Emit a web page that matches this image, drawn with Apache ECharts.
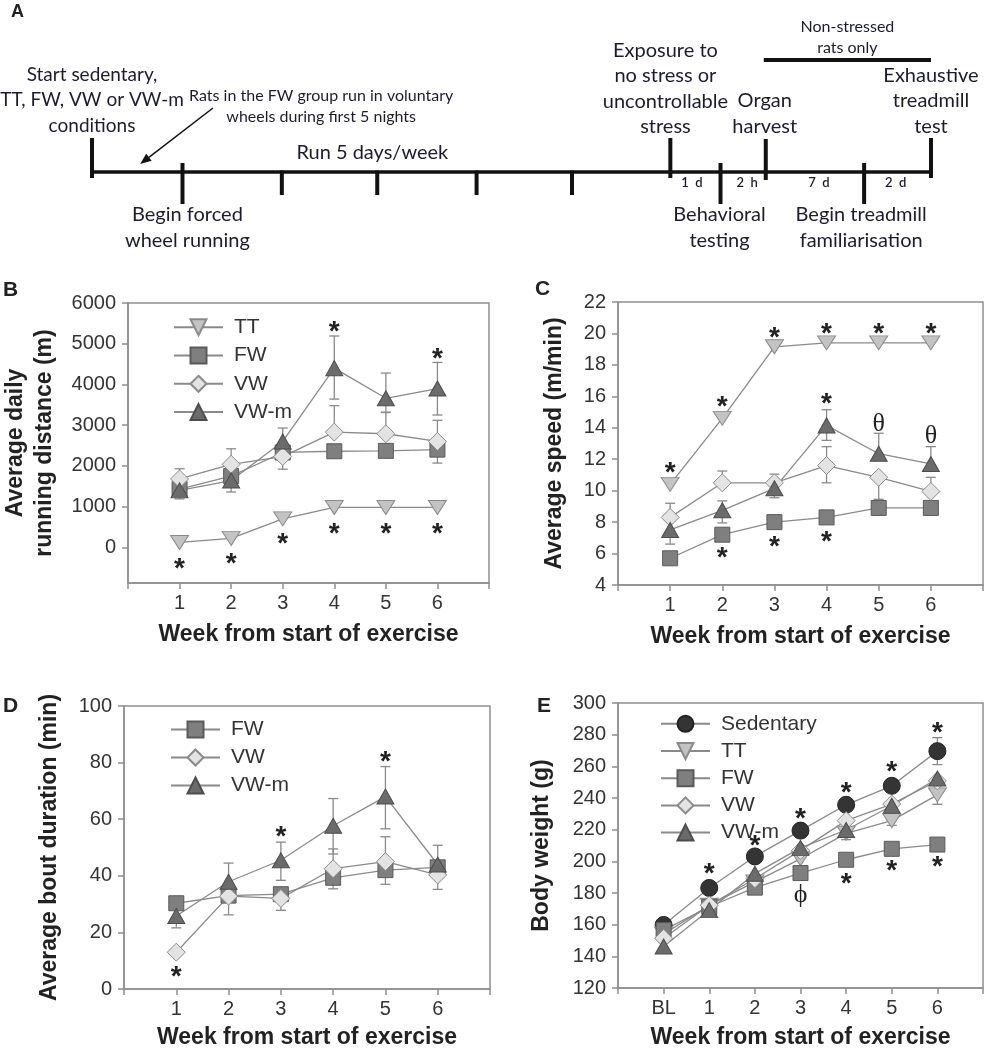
<!DOCTYPE html>
<html><head><meta charset="utf-8">
<script src="https://cdn.jsdelivr.net/npm/echarts@6/dist/echarts.min.js"></script>
<style>html,body{margin:0;padding:0;background:#fff}#c{width:987px;height:1050px}</style>
</head><body><div id="c"></div>
<script>
// ---------------- Panel A: timeline schematic (schematic units) ----------------
const aTickPos  = [0, 0.92, 1.93, 2.90, 3.91, 4.88, 5.88, 6.39, 6.85, 7.85, 8.53];
const aTickUp   = [34, 9, 0, 0, 0, 0, 34, 9, 33, 9, 34];
const aTickDown = [6, 32, 23, 23, 23, 23, 6, 32, 8, 32, 6];
const aBars = [[0, 0, 8.53, 0, 3.5], [6.83, 112, 8.53, 112, 4]];
const aArrow = [1.23, 64, 0.49, 8];
const aTexts = [
  'Start sedentary,\nTT, FW, VW or VW-m\nconditions',
  'Rats in the FW group run in voluntary\nwheels during first 5 nights',
  'Run 5 days/week',
  'Begin forced\nwheel running',
  'Exposure to\nno stress or\nuncontrollable\nstress',
  'Organ\nharvest',
  'Exhaustive\ntreadmill\ntest',
  'Non-stressed\nrats only',
  '1 d', '2 h', '7 d', '2 d',
  'Behavioral\ntesting',
  'Begin treadmill\nfamiliarisation'
];
const aTextX = [0, 2.33, 2.85, 0.97, 5.83, 6.84, 8.53, 7.68, 6.10, 6.66, 7.39, 8.17, 6.38, 7.82];
const aTextY = [72, 66, 19, -55.5, 83.7, 58.5, 71, 134.7, -11, -11, -11, -11, -55.5, -55.5];
const aTextSize = [19, 16, 20, 20, 20, 20, 20, 16, 13, 13, 13, 13, 20, 20];

// ---------------- Panel B: average daily running distance (m) ----------------
const weeks = [1, 2, 3, 4, 5, 6];
const bTT  = [120, 220, 700, 980, 980, 980];
const bFW  = [1430, 1750, 2330, 2360, 2370, 2400];
const bVW  = [1680, 2040, 2230, 2830, 2790, 2600];
const bVWm = [1400, 1640, 2600, 4400, 3660, 3900];
const bFWUp = [0, 0, 0, 0, 0, 0],        bFWDn = [0, 0, 0, 0, 0, 330];
const bVWUp = [250, 380, 0, 650, 530, 520], bVWDn = [0, 0, 310, 0, 0, 0];
const bVWmUp = [0, 0, 330, 790, 620, 640], bVWmDn = [210, 280, 0, 760, 350, 650];
const bMarkX = [1, 2, 3, 4, 5, 6, 4, 6];
const bMarkY = [-380, -260, 230, 470, 470, 470, 5440, 4770];
const bMarkT = ['*', '*', '*', '*', '*', '*', '*', '*'];
const bYTicks = [0, 1000, 2000, 3000, 4000, 5000, 6000];

// ---------------- Panel C: average speed (m/min) ----------------
const cTT  = [10.4, 14.6, 19.15, 19.4, 19.4, 19.4];
const cFW  = [5.7, 7.2, 8.0, 8.3, 8.9, 8.9];
const cVW  = [8.3, 10.5, 10.5, 11.6, 10.85, 9.95];
const cVWm = [7.5, 8.75, 10.15, 14.15, 12.35, 11.7];
const cVWUp = [0.9, 0.75, 0.55, 1.2, 0, 0.9],  cVWDn = [0, 0, 0, 1.1, 1.4, 0];
const cVWmUp = [0.75, 0.6, 0, 1.0, 1.3, 1.1], cVWmDn = [0.9, 0.8, 0.6, 0.95, 0, 0];
const cMarkX = [1, 2, 3, 4, 5, 6, 4, 2, 3, 4, 5, 6];
const cMarkY = [11.5, 15.7, 20.1, 20.3, 20.3, 20.3, 15.9, 6.05, 6.8, 7.1, 14.25, 13.45];
const cMarkT = ['*', '*', '*', '*', '*', '*', '*', '*', '*', '*', 'θ', 'θ'];

// ---------------- Panel D: average bout duration (min) ----------------
const dFW  = [30.3, 33.0, 33.5, 39.3, 42.0, 43.0];
const dVW  = [13.0, 32.8, 32.0, 42.5, 45.0, 40.3];
const dVWm = [25.8, 37.9, 45.5, 57.7, 68.0, 44.0];
const dFWUp = [0, 0, 0, 0, 0, 0],       dFWDn = [0, 0, 0, 3.9, 5.0, 0];
const dVWUp = [0, 0, 0, 7.0, 8.8, 0],   dVWDn = [0, 6.6, 4.2, 0, 0, 5.1];
const dVWmUp = [0, 6.6, 6.4, 9.6, 10.6, 6.8], dVWmDn = [4.2, 0, 7.1, 10.0, 11.4, 0];
const dMarkX = [1, 3, 5];
const dMarkY = [6.1, 55.8, 82.2];
const dMarkT = ['*', '*', '*'];

// ---------------- Panel E: body weight (g) ----------------
const weeksE = [0, 1, 2, 3, 4, 5, 6];
const eSed = [159.8, 183.2, 203.1, 219.4, 235.7, 247.7, 269.6];
const eTT  = [154.0, 172.3, 187.0, 201.6, 217.7, 225.7, 242.0];
const eFW  = [156.6, 171.3, 183.4, 192.6, 201.0, 207.9, 210.6];
const eVW  = [151.4, 172.3, 189.0, 206.9, 225.7, 236.2, 250.8];
const eVWm = [146.2, 169.2, 192.2, 208.5, 219.8, 235.1, 252.3];
const eSedUp = [0, 0, 0, 0, 0, 0, 8.5], eSedDn = [0, 0, 0, 0, 0, 0, 8.5];
const eTTUp = [0, 0, 0, 0, 0, 0, 0],    eTTDn = [0, 0, 0, 0, 4, 3, 6];
const eFWUp = [0, 0, 0, 0, 0, 0, 0],    eFWDn = [0, 0, 0, 0, 0, 0, 4];
const eMarkX = [1, 2, 3, 4, 5, 6, 4, 5, 6, 3];
const eMarkY = [195.3, 213.6, 230.5, 246.6, 260.2, 284.7, 189.5, 197.4, 200, 178.6];
const eMarkT = ['*', '*', '*', '*', '*', '*', '*', '*', '*', 'ϕ'];

// ---------------- styling ----------------
const STY = {
  'TT':        {symbol: 'triangle', rotate: 180, size: [18, 14], fill: '#c3c3c3', border: '#8a8a8a'},
  'FW':        {symbol: 'rect', rotate: 0, size: 15, fill: '#7f7f7f', border: '#5a5a5a'},
  'VW':        {symbol: 'diamond', rotate: 0, size: 18, fill: '#e3e3e3', border: '#8a8a8a'},
  'VW-m':      {symbol: 'triangle', rotate: 0, size: [17, 15], fill: '#6b6b6b', border: '#4d4d4d'},
  'Sedentary': {symbol: 'circle', rotate: 0, size: 17, fill: '#343434', border: '#222'}
};
const AX = '#8e8e8e', LINE = '#8a8a8a', TXT = '#333', SANS = '"Liberation Sans", Arial, sans-serif';
const ATXT = '#1c1c2a';

function lineSeries(name, gi, xs, ys) {
  const s = STY[name];
  return {
    type: 'line', name, xAxisIndex: gi, yAxisIndex: gi, z: 3,
    data: ys.map((v, i) => [xs[i], v]),
    symbol: s.symbol, symbolRotate: s.rotate, symbolSize: s.size,
    itemStyle: {color: s.fill, borderColor: s.border, borderWidth: 1},
    lineStyle: {color: LINE, width: 1.3},
    emphasis: {disabled: true}, animation: false
  };
}
function errSeries(gi, xs, ys, up, dn) {
  return {
    type: 'custom', xAxisIndex: gi, yAxisIndex: gi, z: 1, silent: true, animation: false,
    data: ys.map((v, i) => [xs[i], v, up[i], dn[i]]),
    renderItem: (p, api) => {
      const x = api.value(0), y = api.value(1), u = api.value(2), d = api.value(3);
      const c = api.coord([x, y]);
      const ch = [];
      const st = {stroke: LINE, lineWidth: 1.3};
      const seg = (t) => {
        ch.push({type: 'line', shape: {x1: c[0], y1: c[1], x2: t[0], y2: t[1]}, style: st});
        ch.push({type: 'line', shape: {x1: t[0] - 5, y1: t[1], x2: t[0] + 5, y2: t[1]}, style: st});
      };
      if (u > 0) seg(api.coord([x, y + u]));
      if (d > 0) seg(api.coord([x, y - d]));
      return {type: 'group', children: ch};
    }
  };
}
function markSeries(gi, xs, ys, ts) {
  return {
    type: 'custom', xAxisIndex: gi, yAxisIndex: gi, z: 5, silent: true, animation: false,
    data: ys.map((v, i) => [xs[i], v]),
    renderItem: (p, api) => {
      const c = api.coord([api.value(0), api.value(1)]);
      const t = ts[p.dataIndex];
      const star = t === '*';
      return {type: 'text', x: c[0], y: c[1] + (star ? 6 : 0), style: {
        text: t, fill: '#222', align: 'center', verticalAlign: 'middle',
        font: star ? 'bold 28px ' + SANS : '26px "Liberation Serif", "DejaVu Serif", serif'
      }};
    }
  };
}
function xAxisW(gi, min, labelFn, gap) {
  return {
    type: 'value', gridIndex: gi, min, max: 7, interval: 1,
    axisLine: {onZero: false, lineStyle: {color: AX, width: 1.5}},
    axisTick: {show: true, length: 6, lineStyle: {color: AX, width: 1.5}},
    axisLabel: {formatter: labelFn, fontSize: 20, color: TXT, fontFamily: SANS, margin: 10},
    splitLine: {show: false},
    name: 'Week from start of exercise', nameLocation: 'middle', nameGap: gap,
    nameTextStyle: {fontSize: 23, fontWeight: 'bold', color: '#222', fontFamily: SANS}
  };
}
function yAxisW(gi, min, max, interval, name, gap, custom) {
  const ax = {
    type: 'value', gridIndex: gi, min, max,
    axisLine: {show: true, onZero: false, lineStyle: {color: AX, width: 1.5}},
    axisTick: {show: true, length: 6, lineStyle: {color: AX, width: 1.5}},
    axisLabel: {fontSize: 20, color: TXT, fontFamily: SANS, margin: 12, formatter: v => String(v)},
    splitLine: {show: false},
    name, nameLocation: 'middle', nameGap: gap, nameRotate: 90,
    nameTextStyle: {fontSize: 23, fontWeight: 'bold', color: '#222', fontFamily: SANS, lineHeight: 29}
  };
  if (custom) { ax.axisLabel.customValues = custom; ax.axisTick.customValues = custom; }
  else ax.interval = interval;
  return ax;
}
const wkLabel = v => (v >= 1 && v <= 6) ? String(v) : '';
const wkLabelE = v => v === 0 ? 'BL' : ((v >= 1 && v <= 6) ? String(v) : '');
function legendW(names, left, top, gap) {
  return {
    data: names, orient: 'vertical', left, top, itemWidth: 49, itemHeight: 20, itemGap: gap,
    selectedMode: false,
    textStyle: {fontSize: 21, color: TXT, fontFamily: SANS, lineHeight: 20, padding: [0, 0, 0, 6]}
  };
}
const gridFrame = {show: true, borderColor: AX, borderWidth: 1.5, containLabel: false};

// ---------------- Panel A series ----------------
const aSeries = [
  { // bars (main timeline + non-stressed bar)
    type: 'custom', xAxisIndex: 0, yAxisIndex: 0, silent: true, animation: false,
    data: aBars,
    renderItem: (p, api) => {
      const a = api.coord([api.value(0), api.value(1)]), b = api.coord([api.value(2), api.value(3)]);
      return {type: 'line', shape: {x1: a[0], y1: a[1], x2: b[0], y2: b[1]}, style: {stroke: '#111', lineWidth: api.value(4)}};
    }
  },
  { // ticks
    type: 'custom', xAxisIndex: 0, yAxisIndex: 0, silent: true, animation: false,
    data: aTickPos.map((x, i) => [x, aTickUp[i], aTickDown[i]]),
    renderItem: (p, api) => {
      const x = api.value(0);
      const a = api.coord([x, api.value(1)]), b = api.coord([x, -api.value(2)]);
      return {type: 'line', shape: {x1: a[0], y1: a[1] - (api.value(1) === 0 ? 1.5 : 0), x2: b[0], y2: b[1]}, style: {stroke: '#111', lineWidth: 4}};
    }
  },
  { // arrow
    type: 'custom', xAxisIndex: 0, yAxisIndex: 0, silent: true, animation: false,
    data: [aArrow],
    renderItem: (p, api) => {
      const a = api.coord([api.value(0), api.value(1)]), b = api.coord([api.value(2), api.value(3)]);
      const ang = Math.atan2(b[1] - a[1], b[0] - a[0]);
      const L = 11, W = 4.5;
      const bx = b[0] - L * Math.cos(ang), by = b[1] - L * Math.sin(ang);
      const px = -Math.sin(ang) * W, py = Math.cos(ang) * W;
      return {type: 'group', children: [
        {type: 'line', shape: {x1: a[0], y1: a[1], x2: bx, y2: by}, style: {stroke: '#111', lineWidth: 1.5}},
        {type: 'polygon', shape: {points: [[b[0], b[1]], [bx + px, by + py], [bx - px, by - py]]}, style: {fill: '#111'}}
      ]};
    }
  },
  { // texts
    type: 'custom', xAxisIndex: 0, yAxisIndex: 0, silent: true, animation: false,
    data: aTextX.map((x, i) => [x, aTextY[i]]),
    renderItem: (p, api) => {
      const c = api.coord([api.value(0), api.value(1)]);
      const fs = aTextSize[p.dataIndex];
      const small = fs <= 13;
      return {type: 'text', x: c[0], y: c[1], style: {
        text: small ? aTexts[p.dataIndex].split('').join('\u2009') : aTexts[p.dataIndex],
        fill: ATXT, align: 'center', verticalAlign: 'middle',
        font: (small ? '600 ' : '') + fs + 'px Lato, "Open Sans", sans-serif',
        lineHeight: fs >= 19 ? 25.5 : (fs >= 14 ? 21 : fs)
      }};
    }
  }
];

const option = {
  animation: false,
  backgroundColor: '#fff',
  grid: [
    {left: 92, top: 0, width: 839, height: 260, show: false},
    Object.assign({left: 125, top: 303, width: 364, height: 280}, gridFrame),
    Object.assign({left: 618, top: 302, width: 365, height: 283}, gridFrame),
    Object.assign({left: 124, top: 706, width: 366, height: 284}, gridFrame),
    Object.assign({left: 618, top: 703, width: 365, height: 287}, gridFrame)
  ],
  xAxis: [
    {type: 'value', gridIndex: 0, min: 0, max: 8.53, show: false},
    xAxisW(1, 0, wkLabel, 40),
    xAxisW(2, 0, wkLabel, 40),
    xAxisW(3, 0, wkLabel, 37),
    xAxisW(4, -1, wkLabelE, 38)
  ],
  yAxis: [
    {type: 'value', gridIndex: 0, min: -88, max: 172, show: false},
    yAxisW(1, -875, 6000, null, 'Average daily\nrunning distance (m)', 69, bYTicks),
    yAxisW(2, 4, 22, 2, 'Average speed (m/min)', 49),
    yAxisW(3, 0, 100, 20, 'Average bout duration (min)', 60),
    yAxisW(4, 120, 300, 20, 'Body weight (g)', 62)
  ],
  legend: [
    legendW(['TT', 'FW', 'VW', 'VW-m'], 168, 311.7, 7.3),
    legendW(['FW', 'VW', 'VW-m'], 165, 714, 7),
    legendW(['Sedentary', 'TT', 'FW', 'VW', 'VW-m'], 655, 708.3, 6.2)
  ],
  graphic: [
    {type: 'text', left: 11, top: 3, style: {text: 'A', font: 'bold 18px ' + SANS, fill: '#222'}},
    {type: 'text', left: 3, top: 280, style: {text: 'B', font: 'bold 21px ' + SANS, fill: '#222'}},
    {type: 'text', left: 535, top: 279, style: {text: 'C', font: 'bold 21px ' + SANS, fill: '#222'}},
    {type: 'text', left: 3, top: 696, style: {text: 'D', font: 'bold 21px ' + SANS, fill: '#222'}},
    {type: 'text', left: 537, top: 696, style: {text: 'E', font: 'bold 21px ' + SANS, fill: '#222'}}
  ],
  series: [
    ...aSeries,
    // B
    errSeries(1, weeks, bFW, bFWUp, bFWDn),
    errSeries(1, weeks, bVW, bVWUp, bVWDn),
    errSeries(1, weeks, bVWm, bVWmUp, bVWmDn),
    lineSeries('TT', 1, weeks, bTT),
    lineSeries('FW', 1, weeks, bFW),
    lineSeries('VW', 1, weeks, bVW),
    lineSeries('VW-m', 1, weeks, bVWm),
    markSeries(1, bMarkX, bMarkY, bMarkT),
    // C
    errSeries(2, weeks, cVW, cVWUp, cVWDn),
    errSeries(2, weeks, cVWm, cVWmUp, cVWmDn),
    lineSeries('TT', 2, weeks, cTT),
    lineSeries('FW', 2, weeks, cFW),
    lineSeries('VW', 2, weeks, cVW),
    lineSeries('VW-m', 2, weeks, cVWm),
    markSeries(2, cMarkX, cMarkY, cMarkT),
    // D
    errSeries(3, weeks, dFW, dFWUp, dFWDn),
    errSeries(3, weeks, dVW, dVWUp, dVWDn),
    errSeries(3, weeks, dVWm, dVWmUp, dVWmDn),
    lineSeries('FW', 3, weeks, dFW),
    lineSeries('VW', 3, weeks, dVW),
    lineSeries('VW-m', 3, weeks, dVWm),
    markSeries(3, dMarkX, dMarkY, dMarkT),
    // E
    errSeries(4, weeksE, eSed, eSedUp, eSedDn),
    errSeries(4, weeksE, eTT, eTTUp, eTTDn),
    errSeries(4, weeksE, eFW, eFWUp, eFWDn),
    lineSeries('Sedentary', 4, weeksE, eSed),
    lineSeries('TT', 4, weeksE, eTT),
    lineSeries('FW', 4, weeksE, eFW),
    lineSeries('VW', 4, weeksE, eVW),
    lineSeries('VW-m', 4, weeksE, eVWm),
    markSeries(4, eMarkX, eMarkY, eMarkT)
  ]
};
const chart = echarts.init(document.getElementById('c'), null, {renderer: 'canvas'});
chart.setOption(option);
</script></body></html>
